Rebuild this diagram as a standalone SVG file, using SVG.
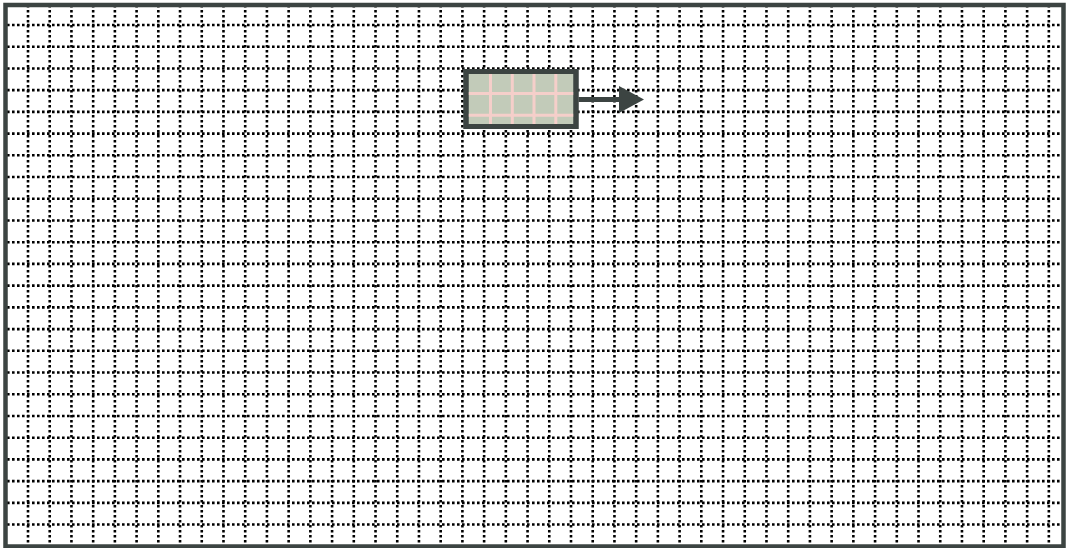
<svg xmlns="http://www.w3.org/2000/svg" width="1067" height="548" viewBox="0 0 1067 548">
  <style>
    .grid { fill: none; stroke: #000000; stroke-width: 2.6; stroke-dasharray: 2.6 2.4; }
    .frame { fill: none; stroke: #3c4442; stroke-width: 4.5; }
    .node-box { fill: #c2cbb9; stroke: #3c4442; stroke-width: 5; }
    .node-grid { fill: none; stroke: #f5cfca; stroke-width: 3; }
    .conn { fill: none; stroke: #3c4442; stroke-width: 5; }
  </style>
  <defs>
    <marker id="arrow" markerUnits="userSpaceOnUse" markerWidth="26" markerHeight="27" refX="1" refY="13.5" orient="auto">
      <path d="M0,0 L25,13.5 L0,27 Z" fill="#3c4442"/>
    </marker>
  </defs>
  <rect x="0" y="0" width="1067" height="548" fill="#ffffff"/>
  <g id="background-grid">
    <path class="grid" d="M28 5V546M49.72 5V546M71.44 5V546M93.16 5V546M114.88 5V546M136.6 5V546M158.32 5V546M180.04 5V546M201.76 5V546M223.48 5V546M245.2 5V546M266.92 5V546M288.64 5V546M310.36 5V546M332.08 5V546M353.8 5V546M375.52 5V546M397.24 5V546M418.96 5V546M440.68 5V546M462.4 5V546M484.12 5V546M505.84 5V546M527.56 5V546M549.28 5V546M571 5V546M592.72 5V546M614.44 5V546M636.16 5V546M657.88 5V546M679.6 5V546M701.32 5V546M723.04 5V546M744.76 5V546M766.48 5V546M788.2 5V546M809.92 5V546M831.64 5V546M853.36 5V546M875.08 5V546M896.8 5V546M918.52 5V546M940.24 5V546M961.96 5V546M983.68 5V546M1005.4 5V546M1027.12 5V546M1048.84 5V546"/>
    <path class="grid" d="M7 25H1063M7 46.72H1063M7 68.44H1063M7 90.16H1063M7 111.88H1063M7 133.6H1063M7 155.32H1063M7 177.04H1063M7 198.76H1063M7 220.48H1063M7 242.2H1063M7 263.92H1063M7 285.64H1063M7 307.36H1063M7 329.08H1063M7 350.8H1063M7 372.52H1063M7 394.24H1063M7 415.96H1063M7 437.68H1063M7 459.4H1063M7 481.12H1063M7 502.84H1063M7 524.56H1063M7 546.28H1063"/>
  </g>
  <rect id="frame" class="frame" x="5.5" y="5" width="1058" height="541.5"/>
  <g id="node">
    <rect class="node-box" x="466" y="71.5" width="110" height="55"/>
    <path class="node-grid" d="M490.5 74V124M512.3 74V124M534 74V124M555.8 74V124M468.5 93.5H573.5M468.5 115.2H573.5"/>
    <rect x="466" y="71.5" width="110" height="55" fill="none" stroke="#3c4442" stroke-width="5"/>
  </g>
  <g id="connectors">
    <line class="conn" x1="578.5" y1="99.5" x2="620" y2="99.5" marker-end="url(#arrow)"/>
  </g>
</svg>
